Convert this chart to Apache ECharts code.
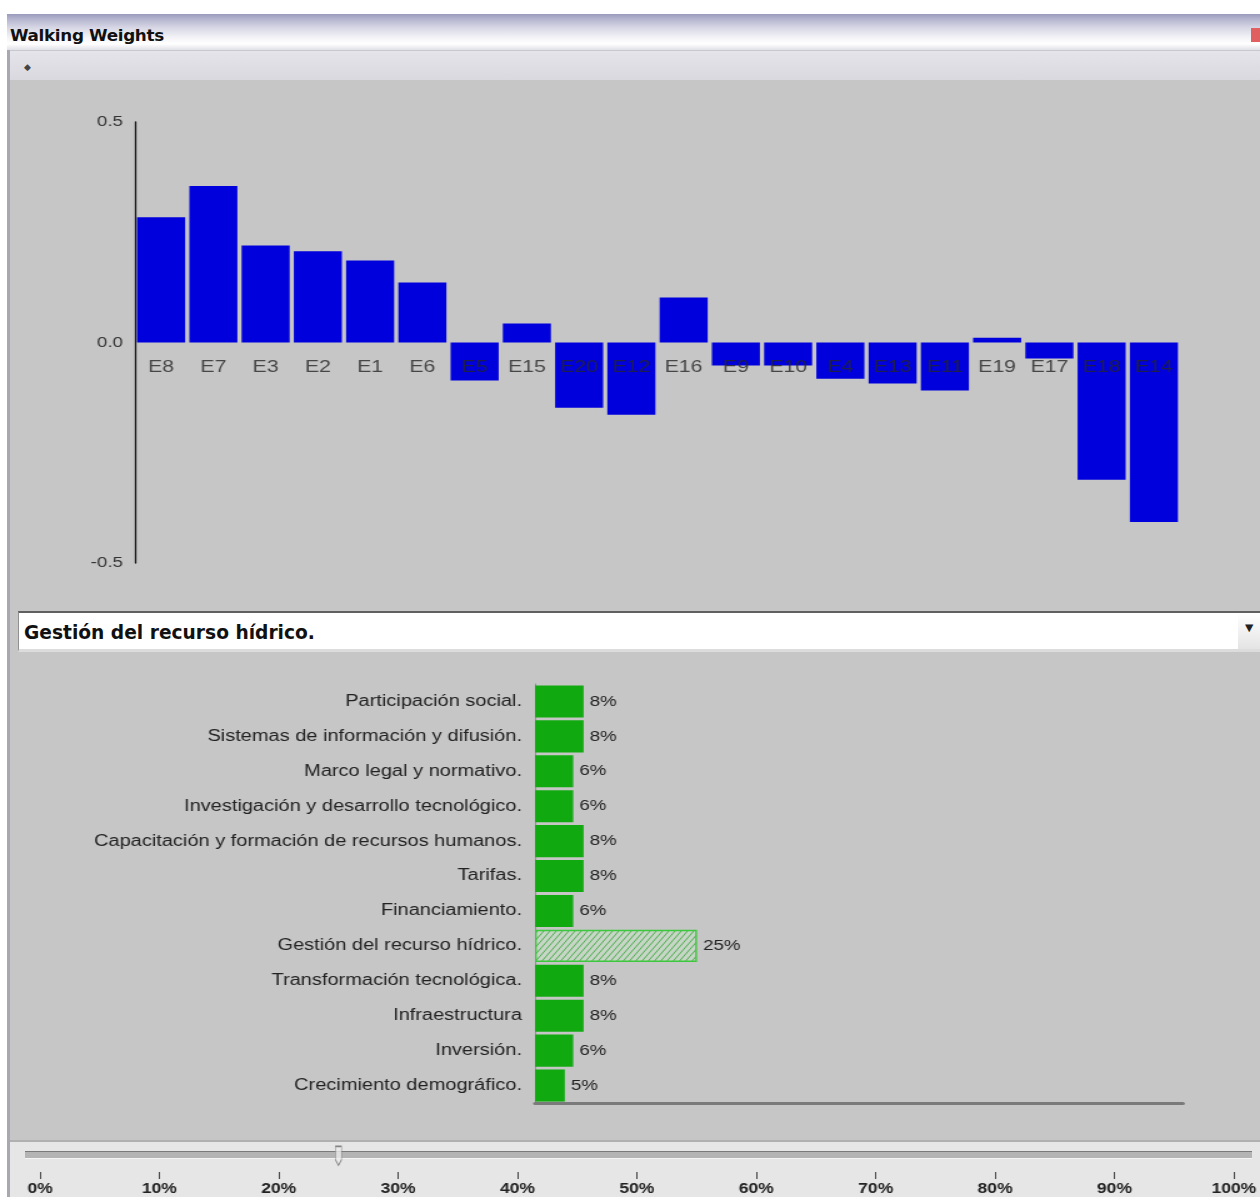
<!DOCTYPE html>
<html>
<head>
<meta charset="utf-8">
<script src="https://cdn.jsdelivr.net/npm/echarts@6/dist/echarts.min.js"></script>
<style>
  html, body { margin:0; padding:0; width:1260px; height:1197px; overflow:hidden; background:#ffffff; font-family:"Liberation Sans", Arial, sans-serif; }
  .abs { position:absolute; }
  #title { left:7px; top:14px; width:1253px; height:36px;
    background:linear-gradient(#9a9abc 0px, #b0b0cc 4px, #d8d8e6 14px, #f4f4f8 24px, #ffffff 30px, #e0e0e8 36px); }
  #title span { position:absolute; left:3px; top:13px; font:bold 15px "DejaVu Sans", sans-serif; color:#111; letter-spacing:-0.3px; transform:scaleX(1.12); transform-origin:left; }
  #close { right:0px; top:28px; width:9px; height:14px; background:#e06060; }
  #toolbar { left:7px; top:50px; width:1253px; height:30px; background:linear-gradient(#e4e4ea, #d8d8de); border-top:1px solid #c8c8d0; }
  #toolbar span { position:absolute; left:17px; top:11px; font:9px "DejaVu Sans", sans-serif; color:#444; }
  #leftborder { left:7px; top:50px; width:3px; height:1147px; background:#a8a8b0; }
  #panel { left:10px; top:80px; width:1250px; height:1060px; background:#c6c6c6; }
  #combo { left:18px; top:611px; width:1242px; height:41px; background:#ffffff; border-top:2px solid #606060; border-left:1px solid #909090; border-bottom:3px solid #dcdcdc; box-sizing:border-box; }
  #combo span { position:absolute; left:5px; top:8px; font:bold 19px "DejaVu Sans Condensed", "DejaVu Sans", sans-serif; color:#111; transform:scaleX(1.09); transform-origin:left; }
  #arrow { right:0px; top:0px; width:22px; height:36px; background:linear-gradient(#ffffff,#e4e4e4); }
  #arrow span { position:absolute; left:7px; top:9px; font:10px "DejaVu Sans", sans-serif; color:#222; }
  #sliderArea { left:10px; top:1140px; width:1250px; height:57px; background:#e6e6e6; border-top:2px solid #b0b0b0; box-sizing:border-box; }
  #track { left:25px; top:1151px; width:1227px; height:6px; background:#b4b4b4; border-top:1px solid #7a7a7a; border-bottom:1px solid #f4f4f4; }
  #chart { left:0; top:0; width:1008px; height:1197px; transform:scaleX(1.25); transform-origin:0 0; }
</style>
</head>
<body>
<div id="title" class="abs"><span>Walking Weights</span></div>
<div id="close" class="abs"></div>
<div id="toolbar" class="abs"><span>◆</span></div>
<div id="leftborder" class="abs"></div>
<div id="panel" class="abs"></div>
<div id="combo" class="abs"><span>Gestión del recurso hídrico.</span><div id="arrow" class="abs"><span>▼</span></div></div>
<div id="sliderArea" class="abs"></div>
<div id="track" class="abs"></div>
<div id="chart" class="abs"></div>
<script>
// ---- data ----
const topCategories = ['E8','E7','E3','E2','E1','E6','E5','E15','E20','E12','E16','E9','E10','E4','E13','E11','E19','E17','E18','E14'];
const topValues = [0.284,0.355,0.220,0.207,0.186,0.136,-0.086,0.043,-0.148,-0.164,0.102,-0.052,-0.052,-0.082,-0.093,-0.109,0.011,-0.036,-0.311,-0.407];
const topAxisMin = -0.5, topAxisMax = 0.5, topAxisStep = 0.5;

const criteria = ['Participación social.','Sistemas de información y difusión.','Marco legal y normativo.','Investigación y desarrollo tecnológico.','Capacitación y formación de recursos humanos.','Tarifas.','Financiamiento.','Gestión del recurso hídrico.','Transformación tecnológica.','Infraestructura','Inversión.','Crecimiento demográfico.'];
const weights = [7.5,7.5,5.9,5.9,7.5,7.5,5.9,25,7.5,7.5,5.9,4.6];
const selectedCriterion = 'Gestión del recurso hídrico.';
const selectedWeight = 25;
const sliderMin = 0, sliderMax = 100, sliderStep = 10;

// hatch tile for the selected criterion ("/" diagonal lines)
function hatchTile() {
  const w = 5, h = 7;
  const c = document.createElement('canvas');
  c.width = w; c.height = h;
  const g = c.getContext('2d');
  g.fillStyle = '#c8d6c8';
  g.fillRect(0, 0, w, h);
  g.strokeStyle = 'rgba(40,160,40,0.85)';
  g.lineWidth = 0.9;
  g.beginPath();
  g.moveTo(-w, 2*h); g.lineTo(2*w, -h);
  g.moveTo(-2*w, 2*h); g.lineTo(w, -h);
  g.moveTo(0, 2*h); g.lineTo(3*w, -h);
  g.stroke();
  return c;
}

// The reference screenshot is horizontally stretched; the chart is drawn in a
// narrower space and stretched by CSS (factor 1.25).
const chart = echarts.init(document.getElementById('chart'), null, {renderer:'canvas'});

const bottomData = weights.map((v, i) => {
  if (criteria[i] === selectedCriterion) {
    return { value: v, itemStyle: {
      color: { image: hatchTile(), repeat: 'repeat' }, borderColor: '#3cc83c', borderWidth: 1.4
    } };
  }
  return v;
});

const option = {
  backgroundColor: 'transparent',
  animation: false,
  grid: [
    { left:108, top:122, width:836, height:441 },
    { left:428, top:684, width:518.4, height:419 },
    { left:32, top:1146, width:960, height:26 }
  ],
  xAxis: [
    { gridIndex:0, type:'category', data: topCategories,
      axisLine:{ show:false }, axisTick:{ show:false }, axisLabel:{ show:false } },
    { gridIndex:1, type:'value', min:0, max:100,
      axisLine:{ show:true, lineStyle:{ color:'#7a7a7a', width:3 } },
      axisTick:{ show:false }, axisLabel:{ show:false }, splitLine:{ show:false } },
    { gridIndex:2, type:'value', min:sliderMin, max:sliderMax, interval:sliderStep, position:'bottom',
      axisLine:{ show:false },
      axisTick:{ show:true, length:7, lineStyle:{ color:'#333', width:0.9 } },
      axisLabel:{ color:'#222', fontSize:14, fontWeight:'bold', fontFamily:'Liberation Sans', margin:10, formatter: v => v + '%' },
      splitLine:{ show:false } }
  ],
  yAxis: [
    { gridIndex:0, type:'value', min:topAxisMin, max:topAxisMax, interval:topAxisStep,
      axisLine:{ show:true, lineStyle:{ color:'#111', width:1.3 } },
      axisTick:{ show:false }, splitLine:{ show:false },
      axisLabel:{ color:'#333', fontSize:15, fontFamily:'Liberation Sans', margin:9.6, formatter: v => v.toFixed(1) } },
    { gridIndex:1, type:'category', data: criteria, inverse:true,
      axisLine:{ show:true, lineStyle:{ color:'#8a8a8a', width:0.9 } },
      axisTick:{ show:false },
      axisLabel:{ color:'#222', fontSize:16, fontFamily:'Liberation Sans', margin:10.4 } },
    { gridIndex:2, type:'value', min:0, max:1, show:false }
  ],
  series: [
    { type:'bar', xAxisIndex:0, yAxisIndex:0, data: topValues, barCategoryGap:'8%',
      itemStyle:{ color:'#0000dc' } },
    { type:'scatter', xAxisIndex:0, yAxisIndex:0, z:5, symbolSize:0, silent:true,
      data: topCategories.map(c => [c, 0]),
      label:{ show:true, position:'bottom', distance:16, color:'#262626', fontSize:17, fontFamily:'Liberation Sans',
        formatter: p => p.value[0] } },
    { type:'bar', xAxisIndex:1, yAxisIndex:1, data: bottomData, barCategoryGap:'8%',
      itemStyle:{ color:'#10aa10' },
      label:{ show:true, position:'right', distance:4.8, color:'#222', fontSize:15, fontFamily:'Liberation Sans',
        formatter: p => Math.round(p.value) + '%' } },
    { type:'scatter', xAxisIndex:2, yAxisIndex:2, data:[[selectedWeight, 0.62]],
      symbol:'path://M0,0 L6,0 L6,14 L3,20 L0,14 Z', symbolSize:[4.8,19],
      itemStyle:{ color:'#ececec', borderColor:'#6a6a6a', borderWidth:1 } }
  ]
};
chart.setOption(option);
</script>
</body>
</html>
